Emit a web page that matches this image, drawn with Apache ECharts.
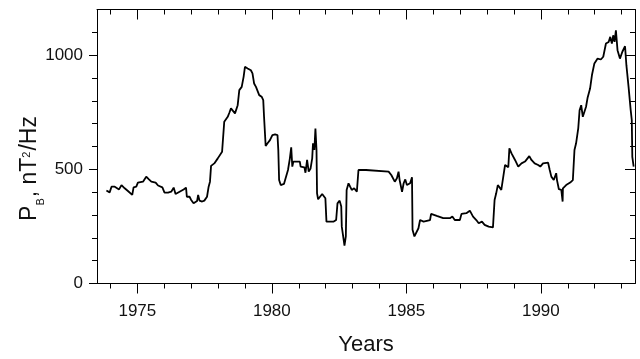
<!DOCTYPE html>
<html>
<head>
<meta charset="utf-8">
<script src="https://cdn.jsdelivr.net/npm/echarts@6/dist/echarts.min.js"></script>
<style>
html,body{margin:0;padding:0;background:#fff;}
#chart{width:640px;height:359px;}
</style>
</head>
<body>
<div id="chart"></div>
<script>
// Years (decimal) and P_B values (nT^2/Hz)
const years = [
1973.85,1973.97,1974.04,1974.16,1974.32,1974.41,1974.53,1974.65,1974.81,1974.86,
1974.96,1975.02,1975.21,1975.33,1975.43,1975.52,1975.68,1975.77,1975.93,1976.01,
1976.14,1976.26,1976.35,1976.42,1976.57,1976.72,1976.81,1976.84,1976.94,1977.00,
1977.09,1977.16,1977.22,1977.26,1977.31,1977.41,1977.49,1977.59,1977.65,1977.70,
1977.74,1977.86,1977.99,1978.15,1978.20,1978.23,1978.30,1978.36,1978.42,1978.48,
1978.54,1978.63,1978.73,1978.79,1978.88,1978.95,1979.00,1979.10,1979.16,1979.22,
1979.28,1979.34,1979.41,1979.47,1979.53,1979.62,1979.68,1979.71,1979.75,1979.77,
1979.84,1979.93,1980.02,1980.12,1980.21,1980.24,1980.27,1980.33,1980.45,1980.51,
1980.60,1980.67,1980.72,1980.76,1980.80,1981.04,1981.07,1981.21,1981.25,1981.31,
1981.37,1981.44,1981.50,1981.53,1981.58,1981.62,1981.66,1981.68,1981.72,1981.87,
1981.99,1982.03,1982.30,1982.39,1982.44,1982.52,1982.58,1982.60,1982.67,1982.70,
1982.75,1982.78,1982.85,1982.91,1982.97,1983.06,1983.16,1983.19,1983.22,1983.50,
1983.54,1984.34,1984.44,1984.57,1984.65,1984.71,1984.75,1984.84,1984.90,1984.96,
1985.02,1985.14,1985.21,1985.23,1985.30,1985.37,1985.45,1985.51,1985.64,1985.88,
1985.92,1986.13,1986.37,1986.62,1986.71,1986.80,1986.99,1987.05,1987.23,1987.36,
1987.48,1987.60,1987.69,1987.81,1987.91,1988.06,1988.22,1988.28,1988.34,1988.40,
1988.47,1988.53,1988.60,1988.64,1988.67,1988.73,1988.79,1988.83,1988.91,1989.04,
1989.16,1989.28,1989.41,1989.57,1989.65,1989.77,1989.90,1989.98,1990.08,1990.27,
1990.33,1990.39,1990.48,1990.57,1990.60,1990.67,1990.76,1990.80,1990.81,1990.82,
1990.94,1991.09,1991.19,1991.25,1991.31,1991.39,1991.44,1991.50,1991.56,1991.68,
1991.74,1991.83,1991.90,1991.99,1992.11,1992.23,1992.32,1992.42,1992.52,1992.58,
1992.64,1992.69,1992.74,1992.79,1992.85,1992.94,1993.03,1993.13,1993.18,1993.26,
1993.34,1993.38,1993.40,1993.45
];
const pb = [
407,399,424,424,412,431,417,405,388,421,
424,442,446,468,456,446,442,429,421,398,
398,402,420,392,402,412,420,380,380,366,
351,344,361,388,363,359,363,380,424,446,
515,526,548,577,585,708,716,730,748,767,
759,745,781,847,861,905,949,942,949,934,
920,876,861,869,825,818,803,730,723,602,
614,628,650,653,650,584,453,431,436,442,
497,548,596,512,534,534,512,509,485,541,
490,504,548,614,585,679,585,395,369,392,
373,271,271,278,351,363,337,249,191,166,
206,410,439,424,410,417,402,402,497,497,
490,490,475,446,461,490,453,402,439,456,
431,439,465,235,206,206,242,278,271,278,
305,296,286,286,293,278,278,305,308,319,
293,278,264,271,257,249,246,366,395,431,
424,410,402,497,519,523,509,592,570,541,
512,526,534,558,541,526,519,512,526,529,
497,468,453,483,453,413,410,417,359,417,
431,442,453,585,614,679,759,781,730,774,
815,854,913,964,985,981,993,1051,1058,1080,
1051,1087,1058,1109,1022,985,1015,1039,956,862,
759,716,555,512
];
const xTickValues = [1975, 1980, 1985, 1990];
const yTickValues = [0, 500, 1000];
const xTitle = 'Years';

const FONT = '"Liberation Sans", Arial, sans-serif';
const data = years.map((y, i) => [y, pb[i]]);

const chart = echarts.init(document.getElementById('chart'), null, {renderer: 'canvas'});
const axisLine = {show: true, onZero: false, lineStyle: {color: '#000', width: 1}};
const tickStyle = {color: '#000', width: 1};

chart.setOption({
  animation: false,
  backgroundColor: '#fff',
  grid: {left: 97, right: 5, top: 9.5, bottom: 75.5, containLabel: false, outerBoundsMode: 'none'},
  xAxis: [{
    type: 'value', position: 'bottom', min: 1973.5, max: 1993.5, splitNumber: 4,
    axisLine: axisLine,
    axisTick: {show: true, inside: false, length: 10, lineStyle: tickStyle, customValues: xTickValues},
    minorTick: {show: true, splitNumber: 5, length: 5, lineStyle: tickStyle},
    axisLabel: {show: true, customValues: xTickValues, margin: 19, fontSize: 17, color: '#111', fontFamily: FONT,
      formatter: v => (v % 5 === 0 ? String(v) : '')},
    splitLine: {show: false},
    name: xTitle, nameLocation: 'middle', nameGap: 50, nameMoveOverlap: false,
    nameTextStyle: {fontSize: 22, color: '#111', fontFamily: FONT}
  }, {
    type: 'value', position: 'top', min: 1973.5, max: 1993.5, splitNumber: 4,
    axisLine: axisLine,
    axisTick: {show: true, inside: true, length: 10, lineStyle: tickStyle, customValues: xTickValues},
    minorTick: {show: true, splitNumber: 5, length: 5, lineStyle: tickStyle},
    axisLabel: {show: false},
    splitLine: {show: false}
  }],
  yAxis: [{
    type: 'value', position: 'left', min: 0, max: 1200, interval: 500,
    axisLine: axisLine,
    axisTick: {show: true, inside: false, length: 8, lineStyle: tickStyle, customValues: yTickValues},
    minorTick: {show: true, splitNumber: 5, length: 5, lineStyle: tickStyle},
    axisLabel: {show: true, customValues: yTickValues, margin: 14, fontSize: 17, color: '#111', fontFamily: FONT,
      formatter: v => String(v)},
    splitLine: {show: false},
    name: '{m|P}{s|B}{m|, nT}{p|2}{m|/Hz}',
    nameLocation: 'middle', nameRotate: 90, nameGap: 50.5, nameMoveOverlap: false,
    nameTextStyle: {
      color: '#111', fontFamily: FONT, fontSize: 23, padding: [0, 44, 0, 0],
      rich: {
        m: {fontSize: 23, fontFamily: FONT, color: '#111', verticalAlign: 'middle'},
        s: {fontSize: 11, fontFamily: FONT, color: '#111', verticalAlign: 'middle', padding: [22, 1, 0, 0]},
        p: {fontSize: 11, fontFamily: FONT, color: '#111', verticalAlign: 'middle', padding: [0, 1, 7, 0]}
      }
    }
  }, {
    type: 'value', position: 'right', min: 0, max: 1200, interval: 500,
    axisLine: axisLine,
    axisTick: {show: true, inside: true, length: 10, lineStyle: tickStyle, customValues: yTickValues},
    minorTick: {show: true, splitNumber: 5, length: 5, lineStyle: tickStyle},
    axisLabel: {show: false},
    splitLine: {show: false}
  }],
  series: [{
    type: 'line', xAxisIndex: 0, yAxisIndex: 0, data: data,
    showSymbol: false, symbol: 'none', clip: true,
    lineStyle: {color: '#000', width: 1.8},
    emphasis: {disabled: true}
  }]
});
</script>
</body>
</html>
